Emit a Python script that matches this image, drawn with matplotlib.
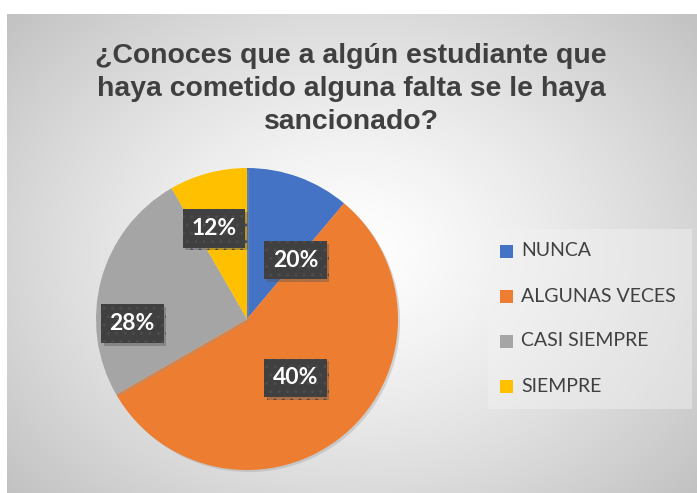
import numpy as np
import matplotlib
matplotlib.use("Agg")
import matplotlib.pyplot as plt
import matplotlib.patheffects as pe
from matplotlib.patches import Rectangle

# data
categories = ["NUNCA", "ALGUNAS VECES", "CASI SIEMPRE", "SIEMPRE"]
counts = [4, 20, 9, 3]
label_texts = ["20%", "40%", "28%", "12%"]
colors = ["#4472C4", "#ED7D31", "#A5A5A5", "#FFC000"]
title = "¿Conoces que a algún estudiante que\nhaya cometido alguna falta se le haya\nsancionado?"

W, H = 697, 493
fig = plt.figure(figsize=(W / 100, H / 100), dpi=100)
fig.patch.set_facecolor("white")

# background with radial gradient (chart area)
bg = fig.add_axes([7 / W, 0, 1 - 7 / W, 1 - 14 / H])
bg.set_axis_off()
yy, xx = np.mgrid[0:1:300j, 0:1:400j]
r = np.sqrt(((xx - 0.5) / 0.55) ** 2 + ((yy - 0.5) / 0.62) ** 2)
r = np.clip(r / r.max(), 0, 1)
g = 1.0 - 0.24 * r ** 1.3
bg.imshow(np.dstack([g, g, g]), extent=(0, 1, 0, 1), aspect="auto", origin="lower")
bg.set_xlim(0, 1)
bg.set_ylim(0, 1)

fig.text(351 / W, 1 - 89 / H, title, ha="center", va="center", fontsize=20.4,
         fontweight="bold", family="Liberation Sans", color="#404040",
         linespacing=1.36)

# pie
cx, cy, rad = 247, 319, 151
ax = fig.add_axes([(cx - rad) / W, (H - cy - rad) / H, 2 * rad / W, 2 * rad / H])
wedges, _ = ax.pie(counts, colors=colors, startangle=90, counterclock=False,
                   wedgeprops=dict(linewidth=0))
for w in wedges:
    w.set_path_effects([pe.SimplePatchShadow(offset=(1.5, -1.5), shadow_rgbFace="#999999", alpha=0.35),
                        pe.Normal()])
ax.set_xlim(-1, 1)
ax.set_ylim(-1, 1)
ax.set_aspect("equal")

# data label positions (axes data coords)
label_xy = [(0.32, 0.39), (0.32, -0.39), (-0.76, -0.03), (-0.22, 0.60)]
for (x, y), txt in zip(label_xy, label_texts):
    t = ax.text(x, y, txt, ha="center", va="center", fontsize=16.5,
                fontweight="bold", family="Lato", color="white",
                bbox=dict(boxstyle="square,pad=0.38", fc="#404040", ec="#4c4c4c",
                          lw=0, hatch=".."))
    t.get_bbox_patch().set_path_effects([
        pe.SimplePatchShadow(offset=(2, -2), shadow_rgbFace="#555555", alpha=0.4),
        pe.Normal()])

# legend
lg = fig.add_axes([0, 0, 1, 1])
lg.set_axis_off()
lg.set_xlim(0, W)
lg.set_ylim(H, 0)
lg.add_patch(Rectangle((488, 229), 204, 180, fc="#f3f3f3", ec="none", alpha=0.45))
leg_y0, leg_dy = 251, 45
for i, (name, c) in enumerate(zip(categories, colors)):
    y = leg_y0 + i * leg_dy
    lg.add_patch(Rectangle((500, y - 6.5), 13, 13, fc=c, ec="none"))
    lg.text(521, y, name, ha="left", va="center", fontsize=14,
            family="Lato", color="#404040")

fig.savefig("out.png", dpi=100)
